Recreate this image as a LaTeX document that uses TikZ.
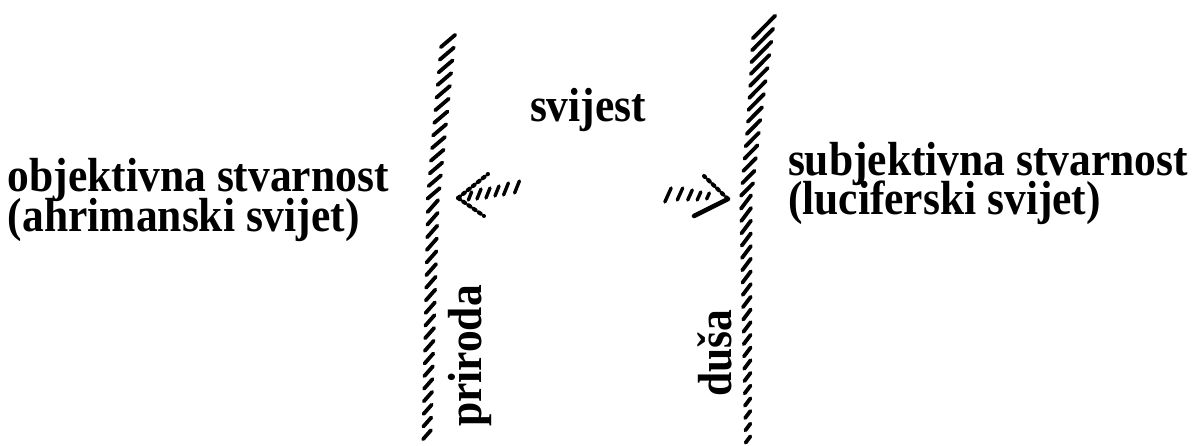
\documentclass[tikz,border=0pt]{standalone}
\usepackage{fontspec}
\setmainfont{Liberation Serif}
\newcommand{\tall}[1]{\scalebox{1}[1.1]{#1}}
\begin{document}
\begin{tikzpicture}[x=1pt,y=-1pt,
  lbl/.style={inner sep=0pt,outer sep=0pt,font=\fontsize{43.5}{36}\selectfont\bfseries},
  hatch/.style={line width=3.8pt,line cap=round},
  tick/.style={line width=3.4pt,line cap=round},
  arm/.style={line width=4pt,line cap=round,dash pattern=on 2.5pt off 3.8pt}]
\useasboundingbox (0,0) rectangle (1199,446);
% texts
\node[lbl,anchor=base west] (obj) at (8,192) {\tall{objektivna stvarnost}};
\node[lbl,anchor=base west] (ahr) at (8,232) {\tall{(ahrimanski svijet)}};
\node[lbl,anchor=base west] (sub) at (788,176) {\tall{subjektivna stvarnost}};
\node[lbl,anchor=base west] (luc) at (788,215) {\tall{(luciferski svijet)}};
\node[lbl,anchor=base west] (svi) at (530,122) {\tall{svijest}};
\node[lbl,rotate=90] (pri) at (470,356) {\tall{priroda}};
\node[lbl,rotate=90] (dus) at (715,353) {\tall{duša}};
% left wall
\foreach \i in {0,...,31} {
  \pgfmathsetmacro\yy{41+12.7*\i}
  \pgfmathsetmacro\xx{\yy<200 ? 448-(\yy-41)*15/159 : 433-(\yy-200)*6/235}
  \pgfmathsetmacro\hl{(19-(\yy-41)*7/395)/2}
  \pgfmathsetmacro\ca{\yy<200 ? 0.76 : 0.66}
  \pgfmathsetmacro\sa{\yy<200 ? 0.65 : 0.75}
  \draw[hatch] (\xx-\hl*\ca,\yy+\hl*\sa) -- (\xx+\hl*\ca,\yy-\hl*\sa);
}
% right wall
\foreach \i in {0,...,33} {
  \pgfmathsetmacro\yy{27+12.5*\i}
  \pgfmathsetmacro\xx{\yy<200 ? 764-(\yy-27)*18/173 : 746+(\yy-200)*2/240}
  \pgfmathsetmacro\hl{(\yy<120 ? 32-(\yy-27)*12/93 : 20-(\yy-120)*12/318)/2}
  \pgfmathsetmacro\ca{\yy<200 ? 0.7 : 0.6}
  \pgfmathsetmacro\sa{\yy<200 ? 0.71 : 0.8}
  \draw[hatch] (\xx-\hl*\ca,\yy+\hl*\sa) -- (\xx+\hl*\ca,\yy-\hl*\sa);
}
% left arrow
\coordinate (lt) at (458,198);
\coordinate (lu) at (488,174);
\coordinate (ld) at (484,216);
\draw[arm] (lt) -- (lu);
\draw[arm] (lt) -- (ld);
\foreach \x/\y/\h in {470/196/4,479/194/5,488/193/5,497/191/5,506/189/6,517/187/6} {
  \draw[tick] (\x-\h*0.4,\y+\h) -- (\x+\h*0.4,\y-\h);
}
% right arrow
\coordinate (rt) at (728,199);
\coordinate (ru) at (704,176);
\coordinate (rd) at (694,216);
\draw[arm] (rt) -- (ru);
\draw[line width=4.5pt,line cap=round] (rd) -- (rt);
\foreach \x/\y/\h in {668/195/7,680/194/6,690/195/5,699/196/4,708/196/3} {
  \draw[tick] (\x-\h*0.45,\y+\h) -- (\x+\h*0.45,\y-\h);
}
\end{tikzpicture}
\end{document}
